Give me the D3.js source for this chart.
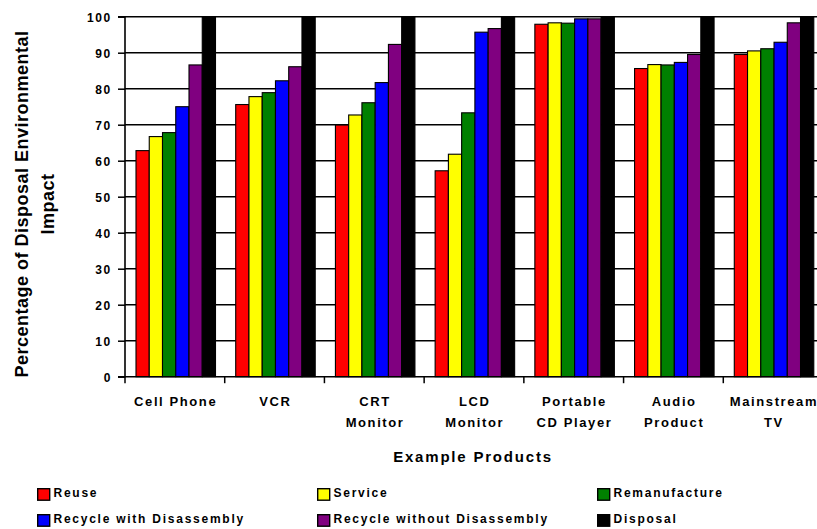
<!DOCTYPE html>
<html>
<head>
<meta charset="utf-8">
<script src="https://cdn.jsdelivr.net/npm/d3@7"></script>
<style>
  html, body { margin: 0; padding: 0; background: #fff; }
  svg { display: block; }
  text { font-family: "Liberation Sans", Arial, sans-serif; font-weight: bold; fill: #000; }
</style>
</head>
<body>
<svg id="chart" width="817" height="529"></svg>
<script>
// Products on the x axis (label lines for each category)
const categories = ["Cell Phone", "VCR", "CRT Monitor", "LCD Monitor", "Portable CD Player", "Audio Product", "Mainstream TV"];
const categoryLines = [["Cell Phone"], ["VCR"], ["CRT", "Monitor"], ["LCD", "Monitor"], ["Portable", "CD Player"], ["Audio", "Product"], ["Mainstream", "TV"]];

// End-of-life strategies (series)
const seriesNames = ["Reuse", "Service", "Remanufacture", "Recycle with Disassembly", "Recycle without Disassembly", "Disposal"];
const seriesColors = ["#ff0000", "#ffff00", "#008000", "#0000ff", "#800080", "#000000"];

// Percentage of disposal environmental impact, per product
const reuse          = [62.8, 75.6, 69.9, 57.2, 97.9, 85.6, 89.5];
const service        = [66.7, 77.8, 72.7, 61.8, 98.3, 86.7, 90.5];
const remanufacture  = [67.8, 78.9, 76.1, 73.3, 98.2, 86.6, 91.1];
const recycleWith    = [75.0, 82.2, 81.7, 95.7, 99.4, 87.3, 92.9];
const recycleWithout = [86.6, 86.1, 92.3, 96.7, 99.4, 89.5, 98.3];
const disposal       = [100, 100, 100, 100, 100, 100, 100];

const yTicks = [0, 10, 20, 30, 40, 50, 60, 70, 80, 90, 100];

const seriesValues = [reuse, service, remanufacture, recycleWith, recycleWithout, disposal];

const svg = d3.select("#chart");

const plot = { left: 125, right: 823, top: 16.7, bottom: 376.7 };

const x0 = d3.scaleBand().domain(categories).range([plot.left, plot.right]).padding(0);
const x1 = d3.scaleBand().domain(seriesNames).range([11, 90.5]).padding(0);
const y = d3.scaleLinear().domain([0, 100]).range([plot.bottom, plot.top]);

// Horizontal gridlines
svg.append("g")
  .selectAll("line")
  .data(yTicks.filter(t => t > 0))
  .join("line")
  .attr("x1", plot.left).attr("x2", plot.right)
  .attr("y1", d => y(d)).attr("y2", d => y(d))
  .attr("stroke", "#000").attr("stroke-width", 1.4);

// Bars
const groups = svg.append("g")
  .selectAll("g")
  .data(categories)
  .join("g")
  .attr("transform", d => `translate(${x0(d)},0)`);

groups.selectAll("rect")
  .data((c, i) => seriesNames.map((s, k) => ({ s, k, v: seriesValues[k][i] })))
  .join("rect")
  .attr("x", d => x1(d.s))
  .attr("width", x1.bandwidth())
  .attr("y", d => y(d.v))
  .attr("height", d => y(0) - y(d.v))
  .attr("fill", d => seriesColors[d.k])
  .attr("stroke", "#000")
  .attr("stroke-width", 1.1);

// Y axis
const yAxis = d3.axisLeft(y).tickValues(yTicks).tickSize(7).tickFormat(d3.format("d"));
const gy = svg.append("g").attr("transform", `translate(${plot.left},0)`).call(yAxis);
gy.select(".domain").attr("stroke", "#000").attr("stroke-width", 1.6).attr("d", `M-7,${plot.bottom}H0V${plot.top}H-7`);
gy.selectAll(".tick line").attr("stroke", "#000").attr("stroke-width", 1.5);
gy.selectAll(".tick text")
  .attr("x", -13)
  .attr("dy", "0.36em")
  .style("font-size", "12px")
  .style("letter-spacing", "1.7px")
  .style("font-family", "'Liberation Sans', Arial, sans-serif")
  .style("font-weight", "bold");

// X axis with ticks at band boundaries
const gx = svg.append("g").attr("transform", `translate(0,${plot.bottom})`);
gx.append("line")
  .attr("x1", plot.left).attr("x2", plot.right)
  .attr("stroke", "#000").attr("stroke-width", 1.6);
const boundaries = categories.map(c => x0(c)).concat([plot.right]);
gx.selectAll("line.tk")
  .data(boundaries)
  .join("line")
  .attr("class", "tk")
  .attr("x1", d => d).attr("x2", d => d)
  .attr("y1", 0).attr("y2", 6.5)
  .attr("stroke", "#000").attr("stroke-width", 1.5);

// Category labels
const catLabels = svg.append("g")
  .selectAll("text")
  .data(categories)
  .join("text")
  .attr("text-anchor", "middle")
  .style("font-size", "13px")
  .style("letter-spacing", "1.6px");
catLabels.each(function(c, i) {
  const cx = x0(c) + x0.bandwidth() / 2 + 0.8;
  d3.select(this).selectAll("tspan")
    .data(categoryLines[i])
    .join("tspan")
    .attr("x", cx)
    .attr("y", (d, j) => 405.5 + j * 21.7)
    .text(d => d);
});

// X axis title
svg.append("text")
  .attr("x", (plot.left + plot.right) / 2 - 1)
  .attr("y", 461.5)
  .attr("text-anchor", "middle")
  .style("font-size", "15px")
  .style("letter-spacing", "1.8px")
  .text("Example Products");

// Y axis title (two lines, rotated)
const yTitle = ["Percentage of Disposal Environmental", "Impact"];
svg.append("g")
  .selectAll("text")
  .data(yTitle)
  .join("text")
  .attr("transform", (d, i) => `translate(${27.5 + i * 26},204) rotate(-90)`)
  .attr("text-anchor", "middle")
  .style("font-size", "18px")
  .style("letter-spacing", "0.5px")
  .text(d => d);

// Legend: 3 columns x 2 rows
const legend = svg.append("g");
const legendItems = legend.selectAll("g")
  .data(seriesNames)
  .join("g")
  .attr("transform", (d, i) => `translate(${37 + (i % 3) * 280},${488 + Math.floor(i / 3) * 26})`);
legendItems.append("rect")
  .attr("x", 0.7).attr("y", 0.7)
  .attr("width", 12).attr("height", 11.5)
  .attr("fill", (d, i) => seriesColors[i])
  .attr("stroke", "#000").attr("stroke-width", 1.4);
legendItems.append("text")
  .attr("x", 16.5)
  .attr("y", 9.2)
  .style("font-size", "12px")
  .style("letter-spacing", "1.75px")
  .text(d => d);
</script>
</body>
</html>
